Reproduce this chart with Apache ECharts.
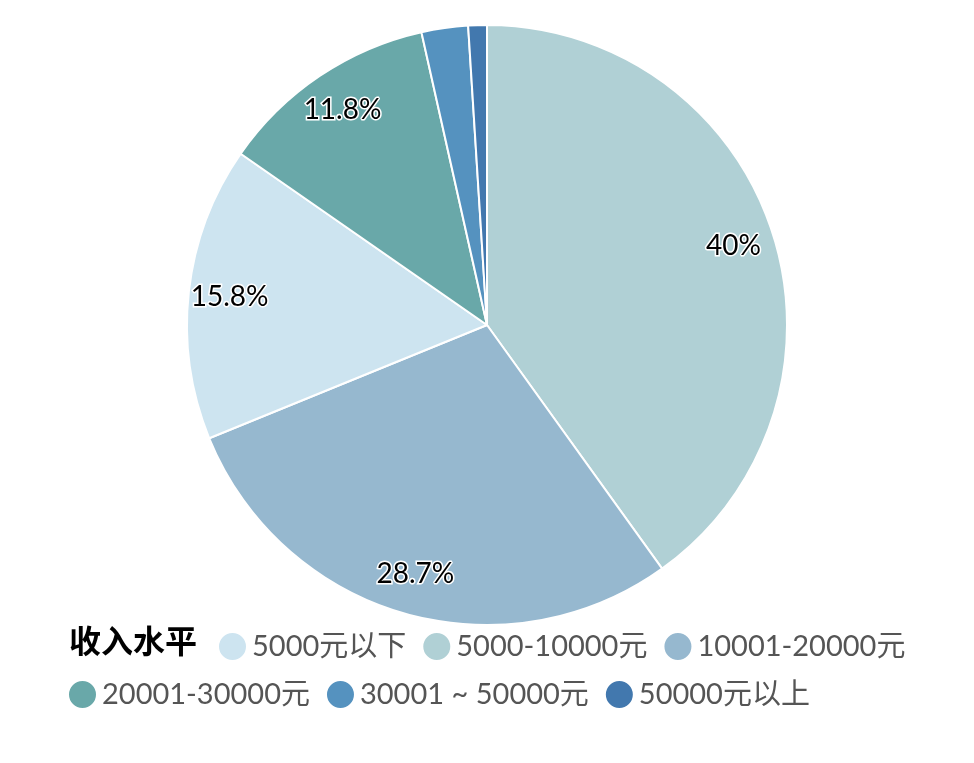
<!DOCTYPE html>
<html>
<head>
<meta charset="utf-8">
<script src="https://cdn.jsdelivr.net/npm/echarts@6/dist/echarts.min.js"></script>
<style>
html, body { margin: 0; padding: 0; background: #fff; }
#main { width: 974px; height: 763px; }
</style>
</head>
<body>
<div id="main"></div>
<script>
/* 收入水平 饼图 */
var pieNames = ['5000-10000元', '10001-20000元', '5000元以下', '20001-30000元', '30001 ~ 50000元', '50000元以上'];
var pieValues = [40, 28.7, 15.8, 11.8, 2.5, 1.0];
var pieColors = ['#b0d0d5', '#96b8cf', '#cde4f0', '#69a8a9', '#5592bf', '#4278ae'];
var legendRow1 = ['5000元以下', '5000-10000元', '10001-20000元'];
var legendRow2 = ['20001-30000元', '30001 ~ 50000元', '50000元以上'];
var legendTitle = '收入水平';

var fontFam = 'Lato, "Noto Sans CJK SC", sans-serif';
var chart = echarts.init(document.getElementById('main'));

var pieData = pieNames.map(function (n, i) {
    return { name: n, value: pieValues[i], itemStyle: { color: pieColors[i] } };
});
// 只放标签用的透明环，标签落在半径约0.85处
var labelData = pieNames.map(function (n, i) {
    return {
        name: n, value: pieValues[i],
        itemStyle: { color: 'rgba(0,0,0,0)', borderWidth: 0 },
        label: { show: pieValues[i] > 5 }
    };
});

var legendText = { fontSize: 29, color: '#555', fontFamily: fontFam };

var option = {
    animation: false,
    color: pieColors,
    title: {
        text: legendTitle,
        left: 64, top: 622,
        textStyle: { fontSize: 32, fontWeight: 'bold', color: '#000', fontFamily: fontFam }
    },
    legend: [
        {
            data: legendRow1,
            orient: 'horizontal',
            left: 212, top: 626,
            icon: 'circle', itemWidth: 29, itemHeight: 29, itemGap: 15,
            textStyle: legendText
        },
        {
            data: legendRow2,
            orient: 'horizontal',
            left: 62, top: 674,
            icon: 'circle', itemWidth: 29, itemHeight: 29, itemGap: 15,
            textStyle: legendText
        }
    ],
    series: [
        {
            name: legendTitle,
            type: 'pie',
            center: [487, 325],
            radius: [0, 300],
            startAngle: 90,
            clockwise: true,
            label: { show: false },
            labelLine: { show: false },
            itemStyle: { borderColor: '#fff', borderWidth: 2 },
            emphasis: { scale: false },
            data: pieData
        },
        {
            name: 'labels',
            type: 'pie',
            center: [487, 325],
            radius: [212, 300],
            startAngle: 90,
            clockwise: true,
            silent: true,
            label: {
                show: true,
                position: 'inside',
                formatter: '{c}%',
                fontSize: 28,
                color: '#000',
                fontFamily: fontFam,
                textBorderColor: '#fff',
                textBorderWidth: 3
            },
            labelLine: { show: false },
            data: labelData
        }
    ]
};
chart.setOption(option);
</script>
</body>
</html>
